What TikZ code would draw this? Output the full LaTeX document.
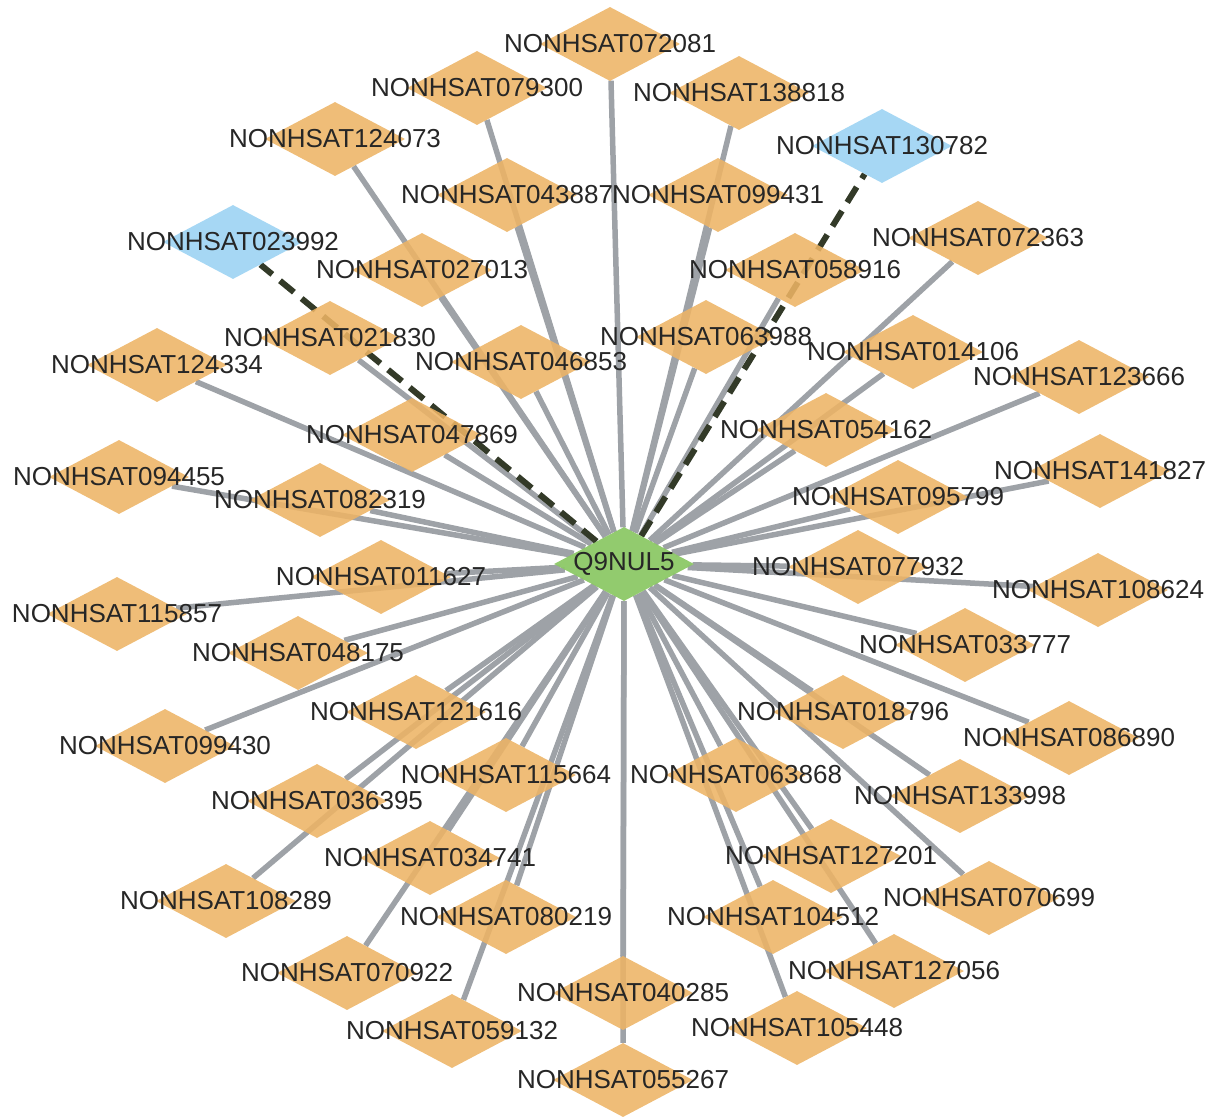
\documentclass[tikz,border=0pt]{standalone}
\usepackage{fontspec}
\setmainfont{Liberation Sans}
\usetikzlibrary{shapes.geometric}
\pgfdeclarelayer{bg}
\pgfsetlayers{bg,main}
\definecolor{orn}{HTML}{EDB465}
\definecolor{blu}{HTML}{9AD2F2}
\definecolor{grn}{HTML}{8CC866}
\definecolor{edgegray}{HTML}{9EA2A7}
\definecolor{dashcol}{HTML}{333A28}
\definecolor{txt}{HTML}{262626}
\begin{document}
\begin{tikzpicture}[x=1pt,y=-1pt,
  dia/.style={diamond, minimum width=140pt, minimum height=74pt, inner sep=0pt, draw=none, fill opacity=0.88},
  lbl/.style={inner sep=0pt, text=txt, font=\fontsize{26}{30}\selectfont},
  edgeline/.style={draw=edgegray, line width=5.5pt},
  dashline/.style={draw=dashcol, line width=6pt, dash pattern=on 18pt off 10pt}]
\useasboundingbox (0,0) rectangle (1215,1118);
% nodes
\node[dia, fill=grn, fill opacity=0.95] (c) at (624,564) {};
\foreach \id/\x/\y in {072081/610/44, 079300/477/88, 138818/739/93, 124073/335/139,
  043887/507/195, 099431/718/195, 027013/422/270, 058916/795/270, 021830/330/338,
  063988/706/337, 072363/978/238, 014106/913/352, 124334/157/365, 046853/521/362,
  123666/1079/377, 047869/412/435, 054162/826/430, 094455/119/477, 141827/1100/471,
  082319/320/500, 095799/898/497, 077932/858/567, 011627/381/577, 108624/1098/590,
  115857/117/614, 048175/298/653, 033777/965/645, 121616/416/712, 018796/843/712,
  086890/1069/738, 099430/165/746, 115664/506/775, 063868/736/775, 036395/317/801,
  133998/960/796, 034741/430/858, 127201/831/856, 108289/226/901, 070699/989/898,
  080219/506/917, 104512/773/917, 070922/347/973, 127056/894/971, 040285/623/993,
  059132/452/1031, 105448/797/1028, 055267/623/1080}
  \node[dia, fill=orn] (n\id) at (\x,\y) {};
\foreach \id/\x/\y in {130782/882/146, 023992/233/242}
  \node[dia, fill=blu] (n\id) at (\x,\y) {};
% labels
\node[lbl] at (c) {Q9NUL5};
\foreach \id in {072081, 079300, 138818, 124073, 043887, 099431, 027013, 058916, 021830,
  063988, 072363, 014106, 124334, 046853, 123666, 047869, 054162, 094455, 141827,
  082319, 095799, 077932, 011627, 108624, 115857, 048175, 033777, 121616, 018796,
  086890, 099430, 115664, 063868, 036395, 133998, 034741, 127201, 108289, 070699,
  080219, 104512, 070922, 127056, 040285, 059132, 105448, 055267, 130782, 023992}
  \node[lbl] at (n\id) {NONHSAT\id};
% edges
\begin{pgfonlayer}{bg}
\foreach \id in {072081, 079300, 138818, 124073, 043887, 099431, 027013, 058916, 021830,
  063988, 072363, 014106, 124334, 046853, 123666, 047869, 054162, 094455, 141827,
  082319, 095799, 077932, 011627, 108624, 115857, 048175, 033777, 121616, 018796,
  086890, 099430, 115664, 063868, 036395, 133998, 034741, 127201, 108289, 070699,
  080219, 104512, 070922, 127056, 040285, 059132, 105448, 055267}
  \draw[edgeline] (c) -- (n\id);
\draw[dashline] (c) -- (n023992);
\draw[dashline] (c) -- (n130782);
\end{pgfonlayer}
\end{tikzpicture}
\end{document}
